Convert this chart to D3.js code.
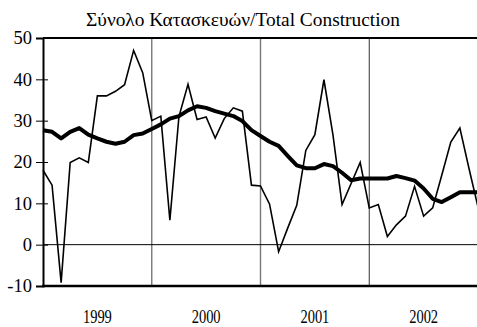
<!DOCTYPE html>
<html>
<head>
<meta charset="utf-8">
<script src="https://cdn.jsdelivr.net/npm/d3@7"></script>
<style>
  html, body { margin: 0; padding: 0; background: #fff; }
  svg { display: block; }
  text { font-family: "Liberation Serif", "Times New Roman", serif; fill: #000; }
</style>
</head>
<body>
<svg id="chart" width="477" height="327"></svg>
<script>
// Monthly series, January 1999 to January 2003
const years = ["1999", "2000", "2001", "2002"];
const monthly = [18.0, 14.4, -9.2, 19.9, 21.0, 19.9, 36.0, 36.0, 37.1, 38.7, 47.0, 41.6,
                 30.0, 31.1, 5.9, 31.0, 38.8, 30.3, 30.9, 25.8, 30.5, 33.1, 32.3, 14.4,
                 14.2, 9.8, -1.7, 4.0, 9.5, 22.8, 26.6, 39.9, 26.5, 9.7, 14.8, 19.9,
                 8.9, 9.7, 2.0, 4.8, 6.9, 14.1, 6.9, 8.9, 16.8, 24.8, 28.2, 18.5,
                 9.1];
const trend = [27.7, 27.3, 25.7, 27.3, 28.2, 26.6, 25.7, 24.9, 24.4, 24.9, 26.5, 26.9,
               28.0, 29.1, 30.5, 31.1, 32.5, 33.5, 33.1, 32.3, 31.7, 31.1, 29.9, 27.7,
               26.3, 24.9, 23.9, 21.5, 19.2, 18.5, 18.5, 19.5, 19.0, 17.4, 15.6, 16.0,
               16.0, 16.0, 16.0, 16.6, 16.1, 15.5, 13.6, 11.1, 10.3, 11.5, 12.7, 12.7,
               12.7];
const yTicks = [-10, 0, 10, 20, 30, 40, 50];
const title = "Σύνολο Κατασκευών/Total Construction";

const svg = d3.select("#chart");
const plotLeft = 43, plotRight = 478, plotTop = 38, plotBottom = 286;
const monthsPerYear = 12;
const serif = "'Liberation Serif', 'Times New Roman', serif";

const x = d3.scaleLinear().domain([0, monthly.length - 1]).range([plotLeft, plotRight]);
const y = d3.scaleLinear().domain([-10, 50]).range([plotBottom, plotTop]);

// Title
svg.append("text")
  .attr("x", 243).attr("y", 26)
  .attr("text-anchor", "middle")
  .style("font-family", serif)
  .attr("font-size", 18)
  .attr("textLength", 314)
  .attr("lengthAdjust", "spacingAndGlyphs")
  .text(title);

// Year separators
years.slice(1).forEach((yr, k) => {
  const xi = x((k + 1) * monthsPerYear);
  svg.append("line")
    .attr("x1", xi).attr("x2", xi).attr("y1", plotTop).attr("y2", plotBottom)
    .attr("stroke", k < 2 ? "#777" : "#333")
    .attr("stroke-width", k < 2 ? 1.4 : 1);
});

// Zero line
svg.append("line")
  .attr("x1", plotLeft).attr("x2", plotRight).attr("y1", y(0)).attr("y2", y(0))
  .attr("stroke", "#000").attr("stroke-width", 1);

// Frame: top border and bottom axis
svg.append("line")
  .attr("x1", plotLeft).attr("x2", plotRight).attr("y1", plotTop).attr("y2", plotTop)
  .attr("stroke", "#000").attr("stroke-width", 2);
svg.append("line")
  .attr("x1", plotLeft - 1).attr("x2", plotRight).attr("y1", plotBottom).attr("y2", plotBottom)
  .attr("stroke", "#000").attr("stroke-width", 2.5);

// Y axis
const yAxis = svg.append("g")
  .attr("transform", `translate(${plotLeft},0)`)
  .call(d3.axisLeft(y).tickValues(yTicks).tickSize(7).tickPadding(4)
    .tickFormat(d => String(d)));
yAxis.select(".domain").attr("stroke", "#000").attr("stroke-width", 2);
yAxis.selectAll(".tick line").attr("x1", 5).attr("stroke", "#000").attr("stroke-width", 1);
yAxis.selectAll(".tick text")
  .style("font-family", serif)
  .attr("font-size", 18.5).attr("fill", "#000");

// Year labels, centred on each year's span (tall, narrow lettering)
years.forEach((yr, k) => {
  const cx = (x(k * monthsPerYear) + x((k + 1) * monthsPerYear)) / 2;
  svg.append("text")
    .attr("transform", `translate(${cx},322.5) scale(1,1.3)`)
    .attr("text-anchor", "middle")
    .style("font-family", serif)
    .attr("font-size", 14.5)
    .text(yr);
});

const line = d3.line().x((d, i) => x(i)).y(d => y(d));

svg.append("path")
  .datum(monthly)
  .attr("d", line)
  .attr("fill", "none").attr("stroke", "#000").attr("stroke-width", 1.6)
  .attr("stroke-linejoin", "miter");

svg.append("path")
  .datum(trend)
  .attr("d", line)
  .attr("fill", "none").attr("stroke", "#000").attr("stroke-width", 4)
  .attr("stroke-linejoin", "round");
</script>
</body>
</html>
